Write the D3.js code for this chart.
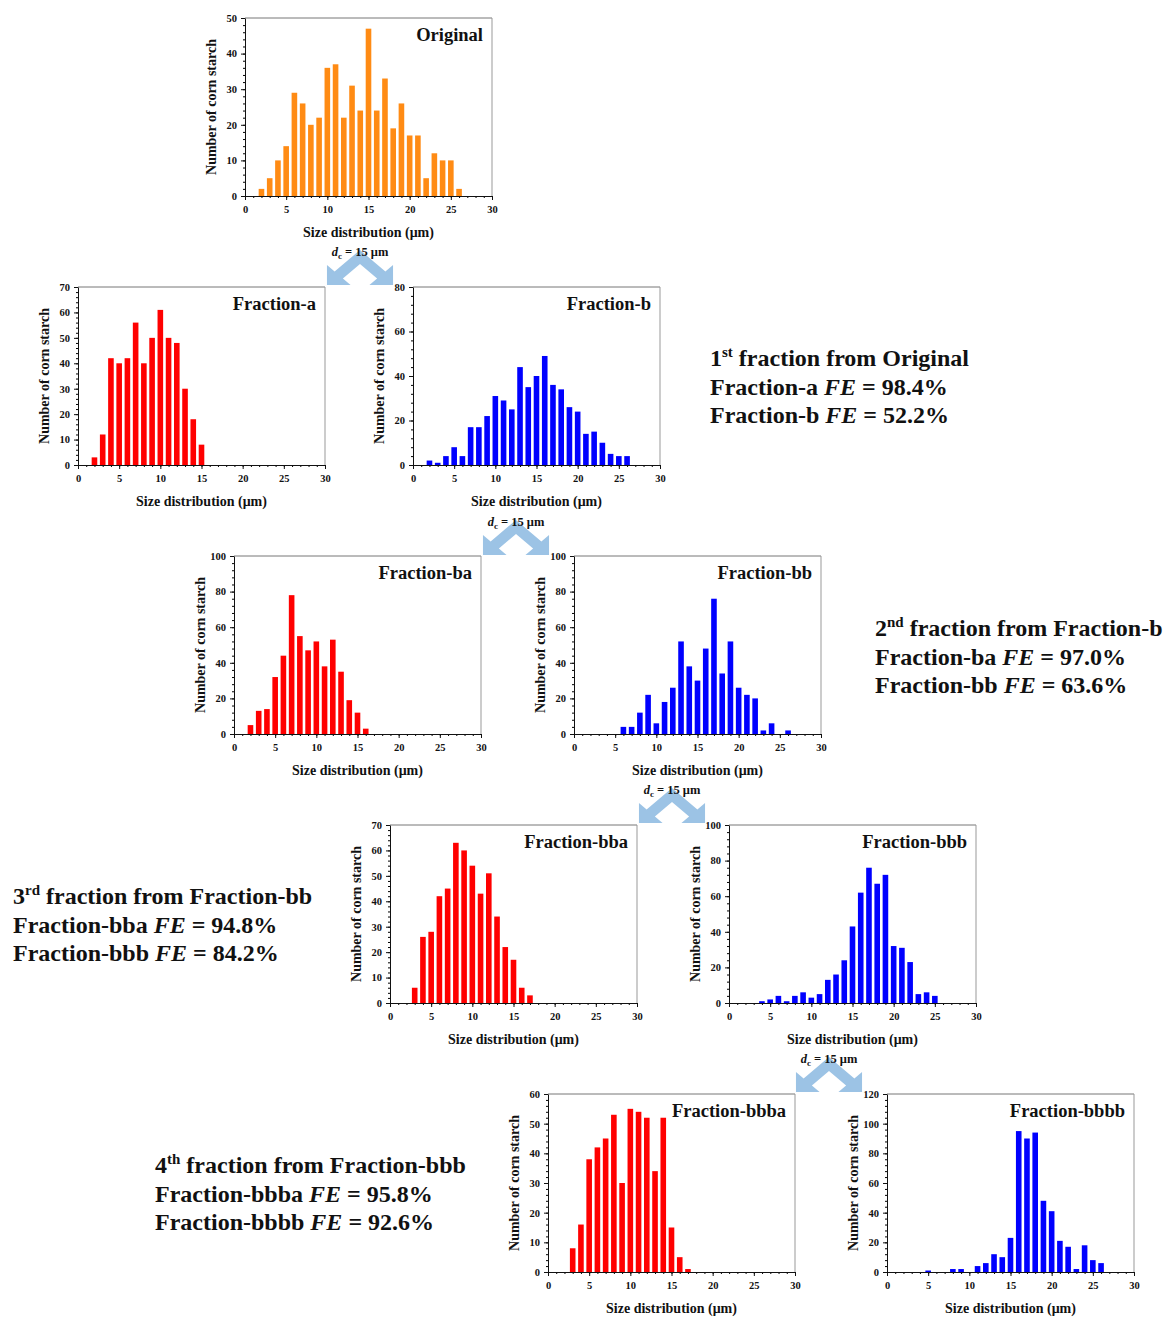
<!DOCTYPE html>
<html>
<head>
<meta charset="utf-8">
<script src="https://cdn.jsdelivr.net/npm/d3@7/dist/d3.min.js"></script>
<style>
  body { margin: 0; background: #fff; }
  text { font-family: "Liberation Serif", "Times New Roman", serif; font-weight: bold; fill: #111; }
</style>
</head>
<body>
<div id="fig"></div>
<script>
// size classes (um) and counts
var sizes = [1,2,3,4,5,6,7,8,9,10,11,12,13,14,15,16,17,18,19,20,21,22,23,24,25,26,27];
var xTicks = [0,5,10,15,20,25,30];

var original = [0,2,5,10,14,29,26,20,22,36,37,22,31,24,47,24,33,19,26,17,17,5,12,10,10,2,0];
var fracA    = [0,3,12,42,40,42,56,40,50,61,50,48,30,18,8,0,0,0,0,0,0,0,0,0,0,0,0];
var fracB    = [0,2,1,4,8,4,17,17,22,31,29,25,44,35,40,49,36,34,26,24,14,15,10,5,4,4,0];
var fracBA   = [0,5,13,14,32,44,78,55,47,52,38,53,35,19,12,3,0,0,0,0,0,0,0,0,0,0,0];
var fracBB   = [0,0,0,0,0,4,4,12,22,6,18,26,52,38,30,48,76,34,52,26,22,20,2,6,0,2,0];
var fracBBA  = [0,0,6,26,28,42,45,63,60,54,43,51,34,22,17,6,3,0,0,0,0,0,0,0,0,0,0];
var fracBBB  = [0,0,0,1,2,4,1,4,6,3,5,13,16,24,43,62,76,67,72,32,31,23,5,6,4,0,0];
var fracBBBA = [0,0,8,16,38,42,45,53,30,55,54,52,34,52,15,5,1,0,0,0,0,0,0,0,0,0,0];
var fracBBBB = [0,0,0,0,1,0,0,2,2,0,4,6,12,10,23,95,90,94,48,41,21,17,2,18,8,6,0];

var yTicks50  = [0,10,20,30,40,50];
var yTicks60  = [0,10,20,30,40,50,60];
var yTicks70  = [0,10,20,30,40,50,60,70];
var yTicks80  = [0,20,40,60,80];
var yTicks100 = [0,20,40,60,80,100];
var yTicks120 = [0,20,40,60,80,100,120];

// separation steps: label, fraction efficiencies
var steps = [
  {n: "1", sup: "st", from: "Original",     a: ["Fraction-a", "98.4%"],    b: ["Fraction-b", "52.2%"]},
  {n: "2", sup: "nd", from: "Fraction-b",   a: ["Fraction-ba", "97.0%"],   b: ["Fraction-bb", "63.6%"]},
  {n: "3", sup: "rd", from: "Fraction-bb",  a: ["Fraction-bba", "94.8%"],  b: ["Fraction-bbb", "84.2%"]},
  {n: "4", sup: "th", from: "Fraction-bbb", a: ["Fraction-bbba", "95.8%"], b: ["Fraction-bbbb", "92.6%"]}
];

var svg = d3.select("#fig").append("svg")
  .attr("width", 1166).attr("height", 1317);

var W = 247, H = 178;
var ORANGE = "#ff8b14", RED = "#ff0000", BLUE = "#0000ff";

function histogram(left, top, title, counts, yTicks, color) {
  var g = svg.append("g").attr("transform", "translate(" + left + "," + top + ")");
  var ymax = yTicks[yTicks.length - 1];
  var x = d3.scaleLinear().domain([0, 30]).range([0, W]);
  var y = d3.scaleLinear().domain([0, ymax]).range([H, 0]);
  var bw = (x(1) - x(0)) * 0.68;

  // frame (top and right are light)
  g.append("line").attr("x1", 0).attr("x2", W).attr("y1", 0).attr("y2", 0)
    .style("stroke", "#777").style("stroke-width", 1);
  g.append("line").attr("x1", W).attr("x2", W).attr("y1", 0).attr("y2", H)
    .style("stroke", "#999").style("stroke-width", 1);

  g.selectAll("rect.bar")
    .data(sizes.map(function(s, i) { return {s: s, v: counts[i]}; }))
    .enter().append("rect")
      .attr("class", "bar")
      .attr("x", function(d) { return x(d.s) - bw / 2; })
      .attr("width", bw)
      .attr("y", function(d) { return y(d.v); })
      .attr("height", function(d) { return H - y(d.v); })
      .style("fill", color);

  // minor ticks
  var step = yTicks[1] - yTicks[0];
  g.append("g").attr("transform", "translate(0," + H + ")")
    .call(d3.axisBottom(x).tickValues(d3.range(0, 31, 1)).tickSize(2).tickFormat(""))
    .call(function(a) { a.select(".domain").remove(); });
  g.append("g")
    .call(d3.axisLeft(y).tickValues(d3.range(0, ymax + 0.01, step / 5)).tickSize(2).tickFormat(""))
    .call(function(a) { a.select(".domain").remove(); });

  // major axes
  var xa = g.append("g").attr("transform", "translate(0," + H + ")")
    .call(d3.axisBottom(x).tickValues(xTicks).tickSize(4).tickPadding(6).tickSizeOuter(0));
  var ya = g.append("g")
    .call(d3.axisLeft(y).tickValues(yTicks).tickSize(4).tickPadding(4).tickSizeOuter(0));
  [xa, ya].forEach(function(a) {
    a.selectAll("text").style("font-size", "10.5px").style("font-family", "Liberation Serif").style("font-weight", "bold").style("fill", "#111");
    a.selectAll("line, path").style("stroke", "#111");
  });

  g.append("text").attr("x", W / 2).attr("y", H + 41)
    .style("text-anchor", "middle").style("font-size", "14px")
    .text("Size distribution (\u03bcm)");
  g.append("text")
    .attr("transform", "translate(-29," + (H / 2) + ") rotate(-90)")
    .style("text-anchor", "middle").style("font-size", "14px")
    .text("Number of corn starch");
  g.append("text").attr("x", W - 9).attr("y", 23)
    .style("text-anchor", "end").style("font-size", "18.5px")
    .text(title);
}

function splitArrow(cx, top) {
  var sx = 1.18;
  var half = [[0,0],[21.5,21.5],[28,15],[28,35],[8,35],[14.5,28.5],[0,14]];
  var pts = half.map(function(p) { return [cx + p[0] * sx, top + p[1]]; })
    .concat(half.slice(1, 6).reverse().map(function(p) { return [cx - p[0] * sx, top + p[1]]; }));
  svg.append("path")
    .attr("d", d3.line()(pts) + "Z")
    .style("fill", "#9cc3e5");
  var t = svg.append("text").attr("x", cx).attr("y", top + 6)
    .style("text-anchor", "middle").style("font-size", "12.5px");
  t.append("tspan").style("font-style", "italic").text("d");
  t.append("tspan").attr("dy", 3).style("font-size", "9px").text("c");
  t.append("tspan").attr("dy", -3).text(" = 15 \u03bcm");
}

function note(left, base, st) {
  var fs = 24, lh = 28.5;
  var t1 = svg.append("text").attr("x", left).attr("y", base).style("font-size", fs + "px");
  t1.append("tspan").text(st.n);
  t1.append("tspan").attr("dy", -9).style("font-size", "15px").text(st.sup);
  t1.append("tspan").attr("dy", 9).text(" fraction from " + st.from);
  [st.a, st.b].forEach(function(r, i) {
    var t = svg.append("text").attr("x", left).attr("y", base + lh * (i + 1)).style("font-size", fs + "px");
    t.append("tspan").text(r[0] + " ");
    t.append("tspan").style("font-style", "italic").text("FE");
    t.append("tspan").text(" = " + r[1]);
  });
}

histogram(245, 18,  "Original",      original, yTicks50,  ORANGE);
histogram(78,  287, "Fraction-a",    fracA,    yTicks70,  RED);
histogram(413, 287, "Fraction-b",    fracB,    yTicks80,  BLUE);
histogram(234, 556, "Fraction-ba",   fracBA,   yTicks100, RED);
histogram(574, 556, "Fraction-bb",   fracBB,   yTicks100, BLUE);
histogram(390, 825, "Fraction-bba",  fracBBA,  yTicks70,  RED);
histogram(729, 825, "Fraction-bbb",  fracBBB,  yTicks100, BLUE);
histogram(548, 1094,"Fraction-bbba", fracBBBA, yTicks60,  RED);
histogram(887, 1094,"Fraction-bbbb", fracBBBB, yTicks120, BLUE);

splitArrow(360, 250);
splitArrow(516, 520);
splitArrow(672, 788);
splitArrow(829, 1057);

note(710, 366, steps[0]);
note(875, 636, steps[1]);
note(13, 904, steps[2]);
note(155, 1173, steps[3]);
</script>
</body>
</html>
